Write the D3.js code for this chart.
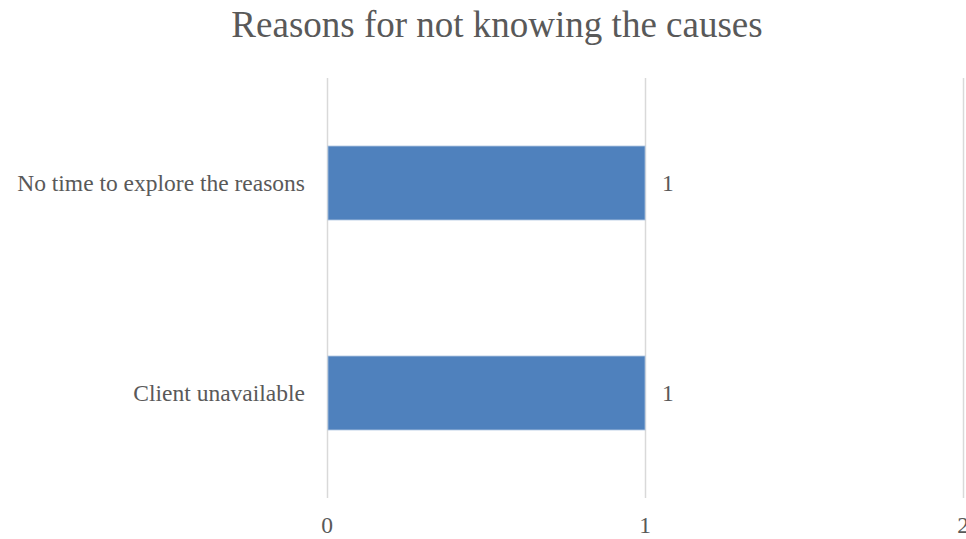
<!DOCTYPE html>
<html>
<head>
<meta charset="utf-8">
<script src="https://cdn.jsdelivr.net/npm/d3@7"></script>
<style>
  body { margin: 0; background: #fff; overflow: hidden; }
  text { font-family: "Liberation Serif", "Times New Roman", serif; fill: #595959; }
</style>
</head>
<body>
<div class="wrapper"></div>
<script>
width = 966;
height = 539;

categories = ["No time to explore the reasons", "Client unavailable"];
values = [1, 1];
ticks = [0, 1, 2];
title = "Reasons for not knowing the causes";

plotLeft = 327;
plotRight = 963;
plotTop = 78;
plotBottom = 498;

svg = d3.select(".wrapper")
  .append("svg")
  .attr("width", width)
  .attr("height", height);

x = d3.scaleLinear().domain([0, 2]).range([plotLeft, plotRight]);
y = d3.scaleBand().domain(categories).range([plotTop, plotBottom])
  .paddingInner(0.648).paddingOuter(0.324);

// title
svg.append("text")
  .attr("x", 497)
  .attr("y", 37)
  .attr("text-anchor", "middle")
  .style("font-size", "37px")
  .text(title);

// vertical gridlines
svg.append("g")
  .selectAll("line")
  .data(ticks)
  .enter().append("line")
  .attr("x1", function (d) { return x(d) + 0.5 })
  .attr("x2", function (d) { return x(d) + 0.5 })
  .attr("y1", plotTop)
  .attr("y2", plotBottom)
  .attr("stroke", "#d9d9d9")
  .attr("stroke-width", 1.5);

// bars
svg.append("g")
  .selectAll("rect")
  .data(values)
  .enter().append("rect")
  .attr("x", x(0) + 1)
  .attr("y", function (d, i) { return y(categories[i]) })
  .attr("width", function (d) { return x(d) - x(0) - 1 })
  .attr("height", y.bandwidth())
  .attr("fill", "#4f81bd")
  .attr("stroke", "#a7c0de")
  .attr("stroke-width", 0.8);

// value labels
svg.append("g")
  .selectAll("text")
  .data(values)
  .enter().append("text")
  .attr("x", function (d) { return x(d) + 17 })
  .attr("y", function (d, i) { return y(categories[i]) + y.bandwidth() / 2 })
  .attr("dy", "0.35em")
  .style("font-size", "23.5px")
  .text(function (d) { return d });

// category labels
svg.append("g")
  .selectAll("text")
  .data(categories)
  .enter().append("text")
  .attr("x", plotLeft - 22)
  .attr("y", function (d) { return y(d) + y.bandwidth() / 2 })
  .attr("dy", "0.35em")
  .attr("text-anchor", "end")
  .style("font-size", "23.5px")
  .text(function (d) { return d });

// x tick labels
svg.append("g")
  .selectAll("text")
  .data(ticks)
  .enter().append("text")
  .attr("x", function (d) { return x(d) })
  .attr("y", 533)
  .attr("text-anchor", "middle")
  .style("font-size", "23.5px")
  .text(function (d) { return d });
</script>
</body>
</html>
